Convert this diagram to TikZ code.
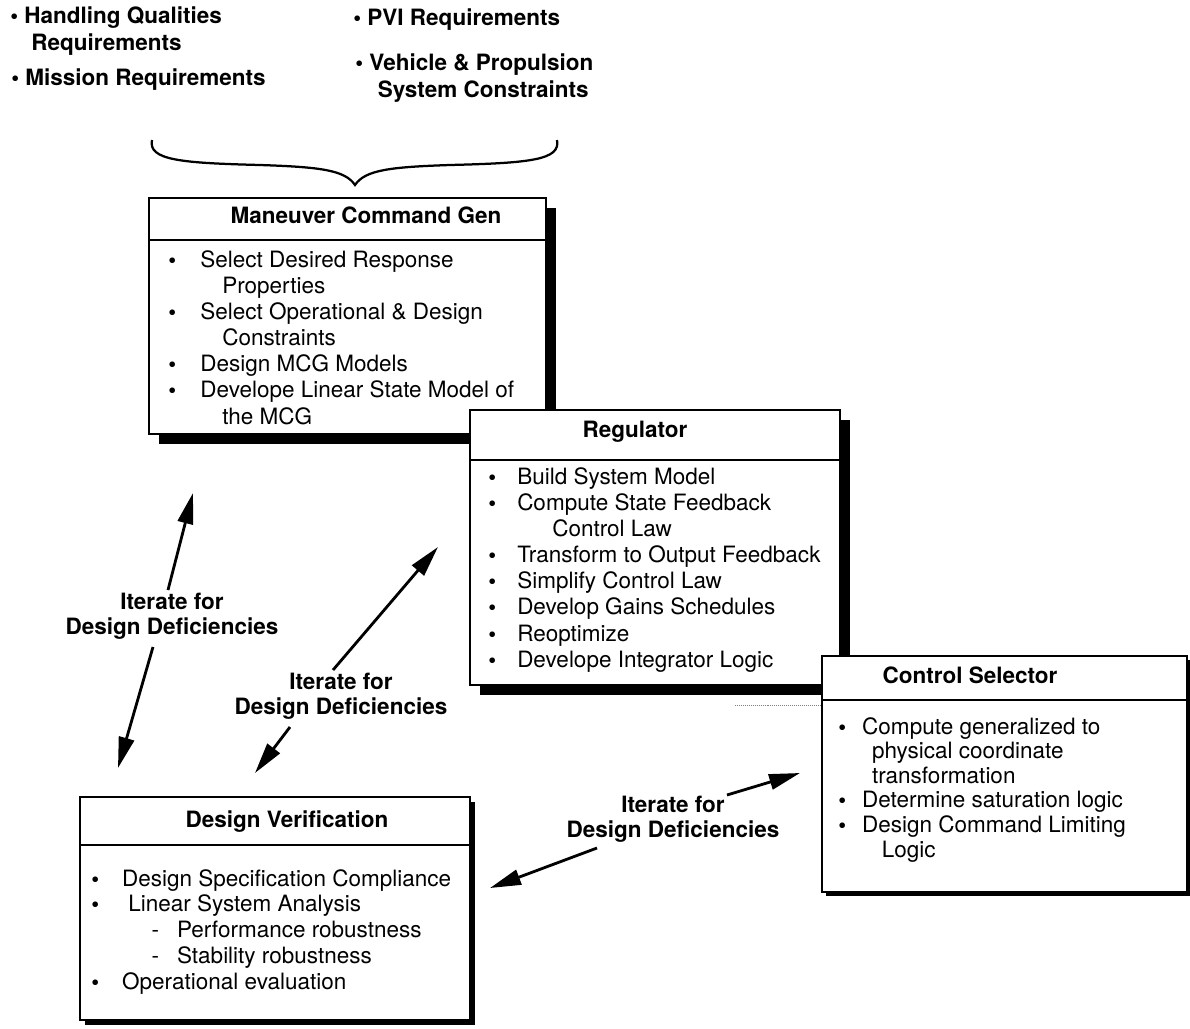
\documentclass[tikz,border=0pt]{standalone}
\usepackage{fontspec}
\setmainfont{TeX Gyre Heros}
\usetikzlibrary{positioning,arrows.meta,fit,calc}

\newcommand{\bul}[1]{\makebox[#1][l]{\textbf{\textbullet}}}

\begin{document}
\begin{tikzpicture}[x=0.025cm, y=-0.025cm,
  panel/.style={draw, line width=1pt, inner sep=0pt},
  shade/.style={fill=black},
  ttl/.style={font=\fontsize{16}{19}\selectfont\bfseries},
  body/.style={anchor=north west, align=left, inner sep=0pt, font=\fontsize{16}{18.6}\selectfont},
  req/.style={anchor=west, align=left, inner sep=0pt, font=\fontsize{16}{19}\selectfont\bfseries},
  lbl/.style={align=center, inner sep=0pt, font=\fontsize{16}{17.8}\selectfont\bfseries},
  iter/.style={line width=2pt, -{Triangle[length=22pt,width=11pt]}}]
  \useasboundingbox (0,0) rectangle (1190,1028);
  % requirements
  \node[req] (hq) at (10,31) {\textbullet\ Handling Qualities\\\hspace*{15pt}Requirements};
  \node[req] (mr) at (11,80) {\textbullet\ Mission Requirements};
  \node[req] (pvi) at (353,20) {\textbullet\ PVI Requirements};
  \node[req] (vp) at (355,78) {\textbullet\ Vehicle \& Propulsion\\\hspace*{16pt}System Constraints};
  \draw[line width=1.6pt] (152,140) .. controls (148,160) and (180,163) .. (260,165)
    .. controls (320,167) and (345,170) .. (355,185)
    .. controls (365,170) and (390,167) .. (450,165)
    .. controls (530,163) and (561,160) .. (557,140);
  % Maneuver Command Gen
  \fill[shade] (159,208) rectangle (556,444);
  \node[panel, fill=white, fit={(149,198) (546,434)}] (mcg) {};
  \draw[line width=1pt] (mcg.west |- 0,240) -- (mcg.east |- 0,240);
  \node[ttl] (mcgT) at (366,215) {Maneuver Command Gen};
  \node[body] (mcgL) at (168,250) {\bul{22.8pt}Select Desired Response\\
    \hspace*{38.4pt}Properties\\
    \bul{22.8pt}Select Operational \& Design\\
    \hspace*{38.4pt}Constraints\\
    \bul{22.8pt}Design MCG Models\\
    \bul{22.8pt}Develope Linear State Model of\\
    \hspace*{38.4pt}the MCG};
  % Regulator
  \fill[shade] (480,420) rectangle (850,695);
  \node[panel, fill=white, fit={(470,410) (840,685)}] (reg) {};
  \draw[line width=1pt] (reg.west |- 0,460) -- (reg.east |- 0,460);
  \node[ttl] (regT) at (635,432) {Regulator};
  \node[body] (regL) at (488,467) {\bul{20.6pt}Build System Model\\
    \bul{20.6pt}Compute State Feedback\\
    \hspace*{45.5pt}Control Law\\
    \bul{20.6pt}Transform to Output Feedback\\
    \bul{20.6pt}Simplify Control Law\\
    \bul{20.6pt}Develop Gains Schedules\\
    \bul{20.6pt}Reoptimize\\
    \bul{20.6pt}Develope Integrator Logic};
  % Control Selector
  \fill[shade] (826,660) rectangle (1191,896);
  \node[panel, fill=white, fit={(822,656) (1187,892)}] (cs) {};
  \draw[line width=1pt] (cs.west |- 0,700) -- (cs.east |- 0,700);
  \node[ttl] (csT) at (970,675) {Control Selector};
  \node[body, font=\fontsize{16}{17.5}\selectfont] (csL) at (838,717) {\bul{17pt}Compute generalized to\\
    \hspace*{24pt}physical coordinate\\
    \hspace*{24pt}transformation\\
    \bul{17pt}Determine saturation logic\\
    \bul{17pt}Design Command Limiting\\
    \hspace*{31pt}Logic};
  \draw[gray, densely dotted, thin] (735,705) -- (cs.west |- 0,705);
  % Design Verification
  \fill[shade] (85,802) rectangle (475,1025);
  \node[panel, fill=white, fit={(80,797) (470,1020)}] (dv) {};
  \draw[line width=1pt] (dv.west |- 0,845) -- (dv.east |- 0,845);
  \node[ttl] (dvT) at (287,822) {Design Verification};
  \node[body, font=\fontsize{16}{18.3}\selectfont] (dvL) at (91,869) {\bul{22pt}Design Specification Compliance\\
    \bul{22pt}\hspace*{4.3pt}Linear System Analysis\\
    \hspace*{43pt}\makebox[18pt][l]{-}Performance robustness\\
    \hspace*{43pt}\makebox[18pt][l]{-}Stability robustness\\
    \bul{22pt}Operational evaluation};
  % iterate arrows
  \coordinate (a1u) at (168,590);  \coordinate (a1t) at (193,493);
  \coordinate (a1d) at (153,647);  \coordinate (a1b) at (118,768);
  \coordinate (a2u) at (333,670);  \coordinate (a2t) at (438,547);
  \coordinate (a2d) at (290,727);  \coordinate (a2b) at (255,773);
  \coordinate (a3u) at (727,795);  \coordinate (a3t) at (800,773);
  \coordinate (a3d) at (597,848);  \coordinate (a3b) at (490,888);
  \foreach \s/\e in {a1u/a1t,a1d/a1b,a2u/a2t,a2d/a2b,a3u/a3t,a3d/a3b}
    \draw[iter] (\s) -- (\e);
  \node[lbl] (it1) at (172,616) {Iterate for\\Design Deficiencies};
  \node[lbl] (it2) at (341,696) {Iterate for\\Design Deficiencies};
  \node[lbl] (it3) at (673,819) {Iterate for\\Design Deficiencies};
\end{tikzpicture}
\end{document}
